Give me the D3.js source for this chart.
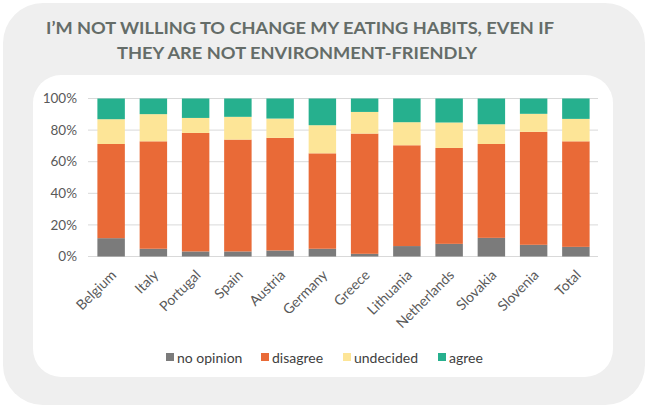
<!DOCTYPE html>
<html lang="en">
<head>
  <meta charset="UTF-8">
  <title>Eating habits</title>
  <script src="https://d3js.org/d3.v7.min.js"></script>
  <style>
    body { margin: 0; background: #fff; }
    svg { display: block; font-family: Lato, "Open Sans", sans-serif; }
    .tick-label { font-size: 13.5px; fill: #595959; }
    .x-label { font-size: 14px; fill: #595959; }
    .legend-label { font-size: 14px; fill: #404040; }
    .title { font-size: 17.5px; font-weight: 700; fill: #646c68; }
  </style>
</head>
<body>
  <svg id="chart" width="648" height="408"></svg>
  <script>
    // data (percent of respondents)
    const countries = ["Belgium", "Italy", "Portugal", "Spain", "Austria", "Germany",
      "Greece", "Lithuania", "Netherlands", "Slovakia", "Slovenia", "Total"];
    const noOpinion = [11.6, 4.9, 3.2, 3.2, 3.8, 4.9, 1.7, 6.6, 8.0, 11.8, 7.4, 6.1];
    const disagree  = [59.6, 68.0, 75.0, 70.8, 71.3, 60.4, 76.1, 63.8, 60.7, 59.4, 71.5, 66.8];
    const undecided = [15.7, 17.2, 9.5, 14.4, 12.2, 17.8, 13.7, 14.6, 16.1, 12.5, 11.4, 14.2];
    const agree     = [13.1, 9.9, 12.3, 11.6, 12.7, 16.9, 8.5, 15.0, 15.2, 16.3, 9.7, 12.9];
    const seriesNames = ["no opinion", "disagree", "undecided", "agree"];
    const yTicks = [0, 20, 40, 60, 80, 100];

    const colors = ["#7b7b7b", "#e96a37", "#fde597", "#26b08e"];

    const rows = countries.map((c, i) => ({
      country: c,
      "no opinion": noOpinion[i],
      "disagree": disagree[i],
      "undecided": undecided[i],
      "agree": agree[i]
    }));

    const svg = d3.select("#chart");

    // backgrounds
    svg.append("rect")
      .attr("x", 3).attr("y", 3).attr("width", 642).attr("height", 402)
      .attr("rx", 40).attr("fill", "#efefef");
    svg.append("rect")
      .attr("x", 33).attr("y", 75).attr("width", 580).attr("height", 302)
      .attr("rx", 28).attr("fill", "#ffffff");

    // title
    const titleLines = [
      { t: "I’M NOT WILLING TO CHANGE MY EATING HABITS, EVEN IF", x: 46, y: 34, w: 508 },
      { t: "THEY ARE NOT ENVIRONMENT-FRIENDLY", x: 117, y: 58.5, w: 360 }
    ];
    svg.selectAll(".title").data(titleLines).enter().append("text")
      .attr("class", "title")
      .attr("x", d => d.x).attr("y", d => d.y)
      .attr("textLength", d => d.w)
      .attr("lengthAdjust", "spacingAndGlyphs")
      .text(d => d.t);

    const x = d3.scaleBand().domain(countries).range([90, 597])
      .paddingInner(0.35).paddingOuter(0.175);
    const y = d3.scaleLinear().domain([0, 100]).range([256.5, 98.5]);

    // grid
    svg.append("g").selectAll("line").data(yTicks).enter().append("line")
      .attr("x1", 88).attr("x2", 598)
      .attr("y1", d => y(d)).attr("y2", d => y(d))
      .attr("stroke", "#d9d9d9").attr("stroke-width", 1);

    // y labels
    svg.append("g").selectAll("text").data(yTicks).enter().append("text")
      .attr("class", "tick-label")
      .attr("x", 77).attr("y", d => y(d))
      .attr("dy", "0.35em")
      .attr("text-anchor", "end")
      .text(d => d + "%");

    // bars
    const stack = d3.stack().keys(seriesNames)(rows);
    svg.append("g").selectAll("g").data(stack).enter().append("g")
      .attr("fill", (d, i) => colors[i])
      .selectAll("rect").data(d => d).enter().append("rect")
      .attr("x", d => x(d.data.country))
      .attr("width", x.bandwidth())
      .attr("y", d => y(d[1]))
      .attr("height", d => y(d[0]) - y(d[1]));

    // x labels
    svg.append("g").selectAll("text").data(countries).enter().append("text")
      .attr("class", "x-label")
      .attr("text-anchor", "end")
      .attr("transform", d => `translate(${x(d) + x.bandwidth() / 2 + 6},${276}) rotate(-45)`)
      .text(d => d);

    // legend
    const legendX = [166, 261, 343, 438];
    const lg = svg.append("g").selectAll("g").data(seriesNames).enter().append("g")
      .attr("transform", (d, i) => `translate(${legendX[i]},358)`);
    lg.append("rect").attr("x", 0).attr("y", -5).attr("width", 8).attr("height", 8)
      .attr("fill", (d, i) => colors[i]);
    lg.append("text").attr("class", "legend-label")
      .attr("x", 11).attr("y", 0).attr("dy", "0.35em")
      .text(d => d);
  </script>
</body>
</html>
